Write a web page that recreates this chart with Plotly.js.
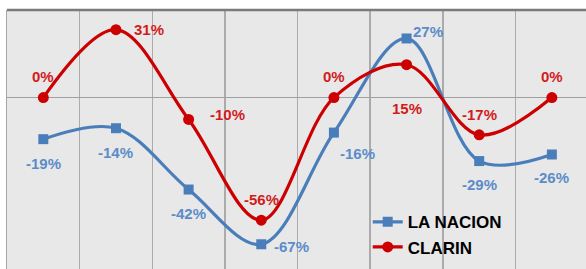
<!DOCTYPE html>
<html><head><meta charset="utf-8">
<script src="https://cdn.plot.ly/plotly-3.0.1.min.js"></script>
<style>html,body{margin:0;padding:0;overflow:hidden;background:#fff}#chart{width:586px;height:269px}</style>
</head><body><div id="chart"></div>
<script>
// ---- data ----
var categories = [0, 1, 2, 3, 4, 5, 6, 7];
var seriesNames = ["LA NACION", "CLARIN"];
var laNacion = [-0.19, -0.14, -0.42, -0.67, -0.16, 0.27, -0.29, -0.26];
var clarin   = [0.00, 0.31, -0.10, -0.56, 0.00, 0.15, -0.17, 0.00];

// label placement (pixel offsets) for each point
var offNacion = [[0,-24],[0,-24],[0,-24],[30,-2],[24,-21],[21,7],[0,-23],[0,-23]];
var offClarin = [[0,21],[33,0],[39,5],[0,21],[0,21],[0,-44],[0,20],[0,21]];

var BLUE = "#4a7ebb", RED = "#cc0000";
var BLUE_T = "#5b8cc8", RED_T = "#d21c1c";

function pct(v){ return Math.round(v*100) + "%"; }

var traces = [
  {x: categories, y: laNacion, name: seriesNames[0], type: "scatter", mode: "lines+markers",
   line: {color: BLUE, width: 3.2, shape: "spline", smoothing: 1},
   marker: {symbol: "square", size: 10, color: BLUE}},
  {x: categories, y: clarin, name: seriesNames[1], type: "scatter", mode: "lines+markers",
   line: {color: RED, width: 3.2, shape: "spline", smoothing: 1},
   marker: {symbol: "circle", size: 11, color: RED}}
];

var annotations = [];
function addLabels(xs, ys, offs, col){
  for (var i = 0; i < xs.length; i++){
    annotations.push({x: xs[i], y: ys[i], xref: "x", yref: "y", text: pct(ys[i]),
      showarrow: false, xshift: offs[i][0], yshift: offs[i][1],
      xanchor: "center", yanchor: "middle",
      font: {family: "Liberation Sans, Arial, sans-serif", size: 15, color: col}});
  }
}
addLabels(categories, laNacion, offNacion, BLUE_T);
addLabels(categories, clarin, offClarin, RED_T);

var layout = {
  width: 586, height: 269,
  margin: {l: 7, r: 0, t: 10, b: 0, pad: 0},
  paper_bgcolor: "#ffffff", plot_bgcolor: "#e8e8e8",
  showlegend: true,
  legend: {x: 0.623, y: 0.25, xanchor: "left", yanchor: "top", bgcolor: "rgba(0,0,0,0)",
    font: {family: "Liberation Sans, Arial, sans-serif", size: 17, color: "#000"}},
  xaxis: {range: [-0.5, 7.47], tickvals: [0.5,1.5,2.5,3.5,4.5,5.5,6.5], showticklabels: false,
    showgrid: true, gridcolor: "#ababab", gridwidth: 1.5, zeroline: false, showline: false, ticks: ""},
  yaxis: {range: [-0.783, 0.4], showgrid: false, showticklabels: false, ticks: "",
    zeroline: true, zerolinecolor: "#a0a0a0", zerolinewidth: 1.5,
    showline: true, linecolor: "#a6a6a6", linewidth: 1.5},
  shapes: [{type: "line", xref: "paper", yref: "paper", x0: 0, x1: 1, y0: 1, y1: 1,
    line: {color: "#7a7a7a", width: 2.5}}],
  annotations: annotations
};
Plotly.newPlot("chart", traces, layout, {staticPlot: true, displayModeBar: false});
// bold text for labels and legend
setTimeout(function(){
  document.querySelectorAll(".annotation-text, .legendtext").forEach(function(t){ t.style.fontWeight = "bold"; });
}, 0);
</script></body></html>
